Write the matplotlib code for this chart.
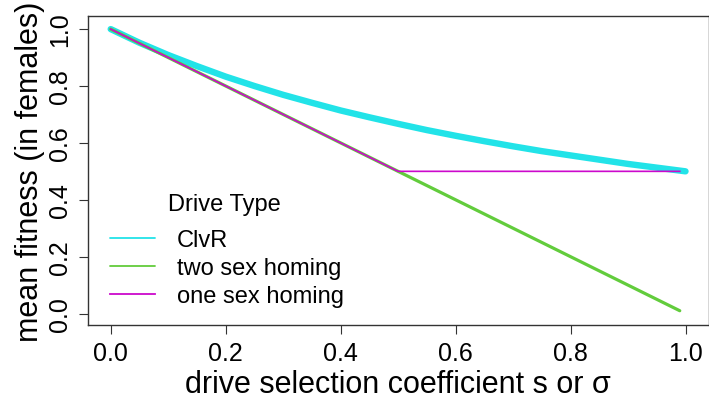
import matplotlib
matplotlib.use("Agg")
import matplotlib.pyplot as plt

# values
s_clvr = [0.0, 0.05, 0.1, 0.15, 0.2, 0.25, 0.3, 0.35, 0.4, 0.45, 0.5,
          0.55, 0.6, 0.65, 0.7, 0.75, 0.8, 0.85, 0.9, 0.95, 1.0]
fit_clvr = [1.0, 0.952, 0.909, 0.870, 0.833, 0.800, 0.769, 0.741, 0.714, 0.690, 0.667,
            0.645, 0.625, 0.606, 0.588, 0.571, 0.556, 0.541, 0.526, 0.513, 0.500]
s_two = [0.0, 0.99]
fit_two = [1.0, 0.01]
s_one = [0.0, 0.5, 0.99]
fit_one = [1.0, 0.5, 0.5]

x_ticks = [0.0, 0.2, 0.4, 0.6, 0.8, 1.0]
y_ticks = [0.0, 0.2, 0.4, 0.6, 0.8, 1.0]

font = "Liberation Sans"
c_clvr = "#22e3e8"
c_two = "#62cc3c"
c_one = "#cc08cc"

fig = plt.figure(figsize=(7.09, 4.10), dpi=100)
ax = fig.add_axes([0.1237, 0.205, 0.8756, 0.7535])

ax.plot(s_clvr, fit_clvr, color=c_clvr, lw=4.6, solid_capstyle="round", label="ClvR")
ax.plot(s_two, fit_two, color=c_two, lw=2.3, solid_capstyle="round", label="two sex homing")
ax.plot(s_one, fit_one, color=c_one, lw=1.2, label="one sex homing")

ax.set_xlim(-0.04, 1.04)
ax.set_ylim(-0.04, 1.046)
ax.set_xticks(x_ticks)
ax.set_yticks(y_ticks)
ax.set_xticklabels(["%.1f" % v for v in x_ticks], fontfamily=font, fontsize=18)
ax.set_yticklabels(["%.1f" % v for v in y_ticks], fontfamily=font, fontsize=18,
                   rotation=90, va="center")
ax.tick_params(direction="out", length=6.5, width=0.8, color="#333333", pad=5)
for sp in ax.spines.values():
    sp.set_color("#333333")
    sp.set_linewidth(1.0)

ax.set_xlabel("drive selection coefficient s or σ", fontfamily=font, fontsize=22, labelpad=3)
ax.set_ylabel("mean fitness (in females)", fontfamily=font, fontsize=22, labelpad=2)

# legend without frame; title placed separately so its gap matches R
handles, labels = ax.get_legend_handles_labels()
leg = ax.legend(handles, labels, loc="upper left",
                bbox_to_anchor=(110 / 709, 1 - 230 / 410), bbox_transform=fig.transFigure,
                frameon=False, borderpad=0, borderaxespad=0,
                prop={"family": font, "size": 17},
                handlelength=1.9, handletextpad=0.93, labelspacing=0.26)
for h in leg.get_lines():
    h.set_linewidth(1.3)
fig.text(224 / 709, 1 - 205 / 410, "Drive Type", fontfamily=font, fontsize=17,
         ha="center", va="center")

fig.savefig("out.png", dpi=100)
